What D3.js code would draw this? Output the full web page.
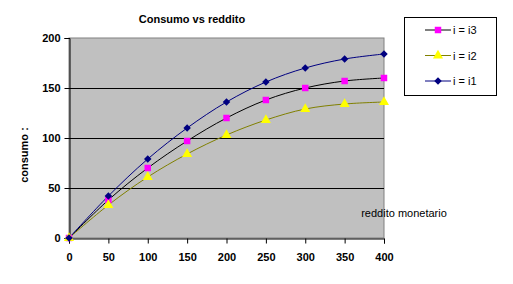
<!DOCTYPE html>
<html lang="it">
<head>
<meta charset="UTF-8">
<title>Consumo vs reddito</title>
<script src="https://d3js.org/d3.v7.min.js"></script>
<style>
    body { margin: 0; background: #fff; }
    svg { display: block; font-family: Arial, "Liberation Sans", sans-serif; }
    .tick text { font-size: 11px; font-weight: bold; fill: #000; }
    .title { font-size: 11px; font-weight: bold; }
</style>
</head>
<body>
<svg width="513" height="284"></svg>
<script>
    // dati
    const reddito = [0, 50, 100, 150, 200, 250, 300, 350, 400];
    const i3 = [0, 38, 70, 97, 120, 138, 150, 157, 160];
    const i2 = [0, 33, 61, 84, 103, 118, 129, 134, 136];
    const i1 = [0, 42, 79, 110, 136, 156, 170, 179, 184];
    const yTicks = [0, 50, 100, 150, 200];

    const series = [
        { name: "i = i3", values: i3, line: "#000000", fill: "#FF00FF", sym: d3.symbolSquare, size: 42 },
        { name: "i = i2", values: i2, line: "#808000", fill: "#FFFF00", sym: d3.symbolTriangle, size: 44 },
        { name: "i = i1", values: i1, line: "#000080", fill: "#000080", sym: d3.symbolDiamond2, size: 36 }
    ];

    const svg = d3.select("svg");
    const plot = { left: 69, right: 384, top: 38, bottom: 238 };

    const x = d3.scaleLinear().domain([0, 400]).range([plot.left, plot.right]);
    const y = d3.scaleLinear().domain([0, 200]).range([plot.bottom, plot.top]);

    // sfondo area grafico
    svg.append("rect")
        .attr("x", plot.left).attr("y", plot.top)
        .attr("width", plot.right - plot.left).attr("height", plot.bottom - plot.top)
        .attr("fill", "#C0C0C0").attr("stroke", "#808080").attr("stroke-width", 1);

    // griglia
    svg.append("g").selectAll("line")
        .data(yTicks.filter(d => d > 0 && d < 200))
        .join("line")
        .attr("x1", plot.left).attr("x2", plot.right)
        .attr("y1", d => y(d) + 0.5).attr("y2", d => y(d) + 0.5)
        .attr("stroke", "#000");

    // assi
    const xAxis = svg.append("g")
        .attr("transform", `translate(0,${plot.bottom + 0.5})`)
        .call(d3.axisBottom(x).tickValues(reddito).tickSize(5).tickPadding(10));
    const yAxis = svg.append("g")
        .attr("transform", `translate(${plot.left + 0.5},0)`)
        .call(d3.axisLeft(y).tickValues(yTicks).tickSize(5).tickPadding(4));
    [xAxis, yAxis].forEach(a => {
        a.select(".domain").attr("stroke", "#000");
        a.selectAll(".tick line").attr("stroke", "#000");
    });

    // linee e marcatori
    const line = d3.line()
        .x((d, i) => x(reddito[i]))
        .y(d => y(d))
        .curve(d3.curveCatmullRom.alpha(0.5));

    series.forEach(s => {
        svg.append("path")
            .datum(s.values)
            .attr("d", line)
            .attr("fill", "none")
            .attr("stroke", s.line)
            .attr("stroke-width", 1);
    });
    series.forEach(s => {
        svg.append("g").selectAll("path")
            .data(s.values)
            .join("path")
            .attr("transform", (d, i) => `translate(${x(reddito[i])},${y(d)})`)
            .attr("d", d3.symbol(s.sym, s.size))
            .attr("fill", s.fill);
    });

    // titoli
    svg.append("text").attr("class", "title")
        .attr("x", 192).attr("y", 23)
        .attr("text-anchor", "middle")
        .text("Consumo vs reddito");

    svg.append("text")
        .attr("transform", "translate(28,155) rotate(-90)")
        .attr("text-anchor", "middle")
        .attr("font-size", 11).attr("font-weight", "bold")
        .text("consumo :");

    svg.append("text")
        .attr("x", 404).attr("y", 217)
        .attr("text-anchor", "middle")
        .attr("font-size", 11)
        .text("reddito monetario");

    // legenda
    const leg = svg.append("g");
    leg.append("rect")
        .attr("x", 404.5).attr("y", 17.5).attr("width", 92).attr("height", 78)
        .attr("fill", "#fff").attr("stroke", "#000");
    series.forEach((s, i) => {
        const ly = 30 + i * 25.5;
        leg.append("line")
            .attr("x1", 425).attr("x2", 451).attr("y1", ly).attr("y2", ly)
            .attr("stroke", s.line);
        leg.append("path")
            .attr("transform", `translate(438,${ly})`)
            .attr("d", d3.symbol(s.sym, s.size))
            .attr("fill", s.fill);
        leg.append("text")
            .attr("x", 453).attr("y", ly + 4)
            .attr("font-size", 11)
            .text(s.name);
    });
</script>
</body>
</html>
